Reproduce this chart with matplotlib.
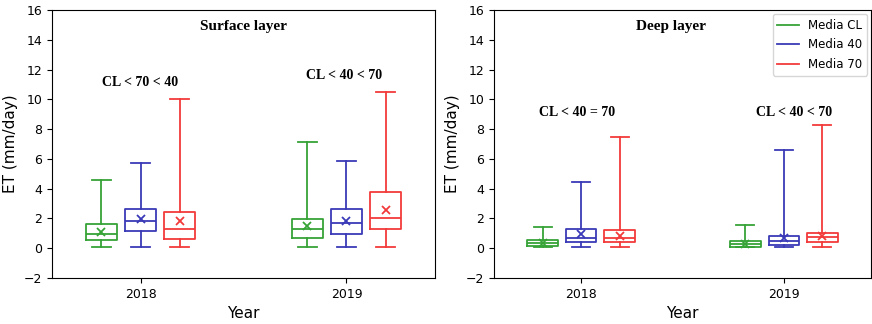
import matplotlib
matplotlib.use('Agg')
import matplotlib.pyplot as plt
from matplotlib.lines import Line2D

years = ['2018', '2019']
series = ['Media CL', 'Media 40', 'Media 70']
colors = ['#36a336', '#3a3ab8', '#f23a3a']

# stats per series, per year: [whislo, q1, med, q3, whishi, mean]
surface_cl = [[0.05, 0.55, 0.95, 1.6, 4.6, 1.1], [0.05, 0.7, 1.3, 1.95, 7.15, 1.5]]
surface_40 = [[0.05, 1.15, 1.8, 2.65, 5.75, 1.95], [0.05, 0.95, 1.7, 2.65, 5.85, 1.85]]
surface_70 = [[0.05, 0.65, 1.3, 2.4, 10.0, 1.8], [0.05, 1.3, 2.0, 3.8, 10.5, 2.6]]

deep_cl = [[0.05, 0.15, 0.35, 0.55, 1.45, 0.35], [0.05, 0.1, 0.3, 0.5, 1.55, 0.3]]
deep_40 = [[0.05, 0.4, 0.7, 1.3, 4.45, 0.95], [0.05, 0.2, 0.5, 0.8, 6.6, 0.7]]
deep_70 = [[0.05, 0.4, 0.7, 1.2, 7.45, 0.85], [0.05, 0.4, 0.75, 1.05, 8.25, 0.85]]

surface_notes = ['CL < 70 < 40', 'CL < 40 < 70']
deep_notes = ['CL < 40 = 70', 'CL < 40 < 70']


def to_stats(rows):
    out = []
    for r in rows:
        out.append(dict(whislo=r[0], q1=r[1], med=r[2], q3=r[3], whishi=r[4],
                        mean=r[5], fliers=[]))
    return out


def panel(ax, groups, title, title_x, notes, note_y, note_x):
    offs = [-0.19, 0, 0.19]
    for k, (g, c) in enumerate(zip(groups, colors)):
        pos = [i + offs[k] for i in range(len(years))]
        ax.bxp(to_stats(g), positions=pos, widths=0.15, showmeans=True,
               showfliers=False, manage_ticks=False,
               boxprops=dict(color=c, lw=1.3),
               whiskerprops=dict(color=c, lw=1.3),
               capprops=dict(color=c, lw=1.3),
               medianprops=dict(color=c, lw=1.3),
               meanprops=dict(marker='x', markeredgecolor=c, markersize=6,
                              markeredgewidth=1.3),
               capwidths=0.09)
    ax.set_xticks(range(len(years)))
    ax.set_xticklabels(years)
    ax.set_xlim(-0.43, 1.43)
    ax.set_ylim(-2, 16)
    ax.set_yticks(range(-2, 17, 2))
    ax.set_xlabel('Year', fontsize=11, labelpad=4)
    ax.set_ylabel('ET (mm/day)', fontsize=11)
    ax.tick_params(labelsize=9)
    ax.text(title_x, 14.9, title, transform=ax.get_yaxis_transform(),
            ha='center', va='center', fontsize=11, fontweight='bold',
            family='Liberation Serif')
    for x, y, t in zip(note_x, note_y, notes):
        ax.text(x, y, t, ha='center', va='center', fontsize=10,
                fontweight='bold', family='Liberation Serif')


fig = plt.figure(figsize=(8.72, 3.24), dpi=100)
ax1 = fig.add_axes([52 / 872, 46 / 324, 383 / 872, 268 / 324])
ax2 = fig.add_axes([494 / 872, 46 / 324, 377 / 872, 268 / 324])

panel(ax1, [surface_cl, surface_40, surface_70], 'Surface layer', 0.5,
      surface_notes, [11.1, 11.6], [0.0, 0.99])
panel(ax2, [deep_cl, deep_40, deep_70], 'Deep layer', 0.47,
      deep_notes, [9.1, 9.1], [-0.02, 1.05])

handles = [Line2D([], [], color=c, lw=1.3) for c in colors]
ax2.legend(handles, series, loc='upper right', fontsize=8.5,
           handlelength=1.8, borderaxespad=0.35, labelspacing=0.55)

fig.savefig('out.png', dpi=100)
